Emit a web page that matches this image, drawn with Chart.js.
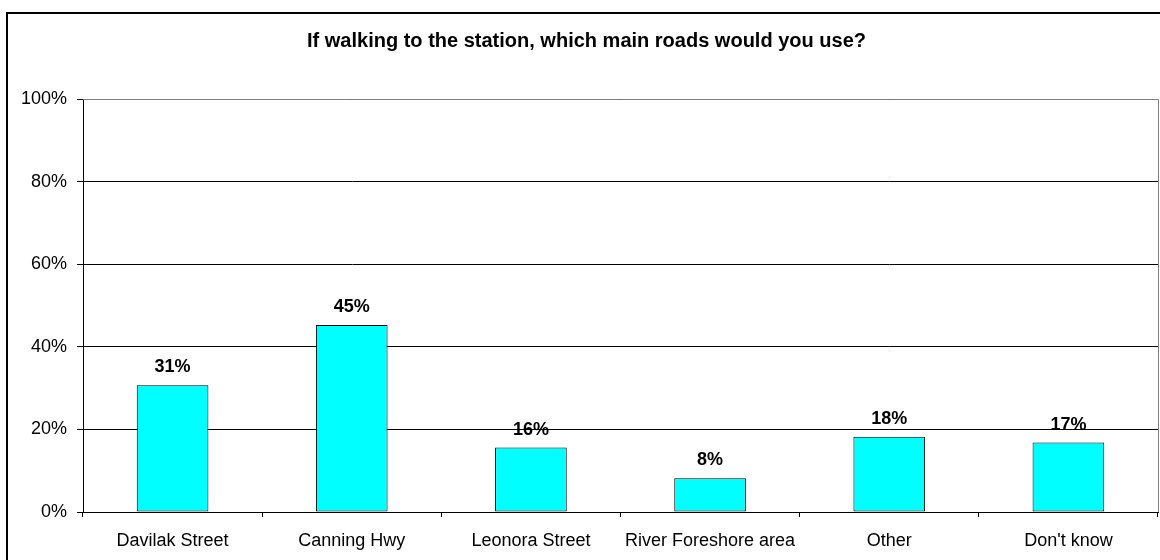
<!DOCTYPE html>
<html>
<head>
<meta charset="utf-8">
<title>Walking routes to the station</title>
<script src="https://cdn.jsdelivr.net/npm/chart.js@4/dist/chart.umd.min.js"></script>
<style>
  html, body { margin: 0; padding: 0; background: #fff; }
  #wrap { width: 1160px; height: 560px; position: relative; }
</style>
</head>
<body>
<div id="wrap"><canvas id="roadsChart"></canvas></div>
<script>
// Survey data
const categories = ['Davilak Street', 'Canning Hwy', 'Leonora Street', 'River Foreshore area', 'Other', "Don't know"];
const shares = [30.7, 45.3, 15.6, 8.2, 18.2, 16.8];
const yTicks = [0, 20, 40, 60, 80, 100];

const chartTitle = 'If walking to the station, which main roads would you use?';
const fontFamily = 'Arial, "Liberation Sans", sans-serif';

/**
 * Draw the outer chart frame and the grey plot area frame
 */
const framePlugin = {
  id: 'frame',
  beforeDraw(chart) {
    const ctx = chart.ctx;
    ctx.save();
    ctx.fillStyle = '#fff';
    ctx.fillRect(0, 0, chart.width, chart.height);
    ctx.strokeStyle = '#000';
    ctx.lineWidth = 2;
    ctx.beginPath();
    ctx.moveTo(7, chart.height + 2);
    ctx.lineTo(7, 13);
    ctx.lineTo(chart.width + 2, 13);
    ctx.stroke();
    ctx.restore();
  },
  afterDatasetsDraw(chart) {
    const area = chart.chartArea;
    const ctx = chart.ctx;
    ctx.save();
    ctx.strokeStyle = '#808080';
    ctx.lineWidth = 1;
    ctx.beginPath();
    ctx.moveTo(area.left, area.top + 0.5);
    ctx.lineTo(area.right + 0.5, area.top + 0.5);
    ctx.lineTo(area.right + 0.5, area.bottom);
    ctx.stroke();
    ctx.restore();
  }
};

/**
 * Write the percentage above every bar
 */
const valueLabelPlugin = {
  id: 'valueLabels',
  afterDatasetsDraw(chart) {
    const ctx = chart.ctx;
    const meta = chart.getDatasetMeta(0);
    ctx.save();
    ctx.font = 'bold 18px ' + fontFamily;
    ctx.fillStyle = '#000';
    ctx.textAlign = 'center';
    ctx.textBaseline = 'middle';
    meta.data.forEach((bar, i) => {
      ctx.fillText(Math.round(shares[i]) + '%', bar.x, bar.y - 18);
    });
    ctx.restore();
  }
};

const ctx = document.getElementById('roadsChart').getContext('2d');

new Chart(ctx, {
  type: 'bar',
  data: {
    labels: categories,
    datasets: [{
      data: shares,
      backgroundColor: '#00ffff',
      borderColor: '#000',
      borderWidth: 1,
      borderSkipped: false,
      barPercentage: 1,
      categoryPercentage: 0.4
    }]
  },
  options: {
    responsive: true,
    maintainAspectRatio: false,
    animation: false,
    layout: {
      padding: { left: 15, right: 2, top: 0, bottom: 0 }
    },
    plugins: {
      legend: { display: false },
      tooltip: { enabled: false },
      title: {
        display: true,
        text: chartTitle,
        color: '#000',
        font: { family: fontFamily, size: 20, weight: 'bold', lineHeight: 1.2 },
        padding: { top: 29, bottom: 46 }
      }
    },
    scales: {
      x: {
        grid: {
          offset: true,
          drawOnChartArea: false,
          drawTicks: true,
          tickLength: 5,
          color: '#000'
        },
        border: { color: '#000', width: 1 },
        ticks: {
          color: '#000',
          font: { family: fontFamily, size: 18 },
          padding: 13,
          maxRotation: 0
        },
        afterFit(scale) {
          scale.height = 48;
        }
      },
      y: {
        min: 0,
        max: 100,
        afterBuildTicks(scale) {
          scale.ticks = yTicks.map(v => ({ value: v }));
        },
        grid: {
          color: '#000',
          tickLength: 6,
          lineWidth: 1
        },
        border: { color: '#000', width: 1 },
        ticks: {
          color: '#000',
          font: { family: fontFamily, size: 18 },
          padding: 10,
          callback: value => value + '%'
        },
        afterFit(scale) {
          scale.width = 68;
        }
      }
    }
  },
  plugins: [framePlugin, valueLabelPlugin]
});
</script>
</body>
</html>
